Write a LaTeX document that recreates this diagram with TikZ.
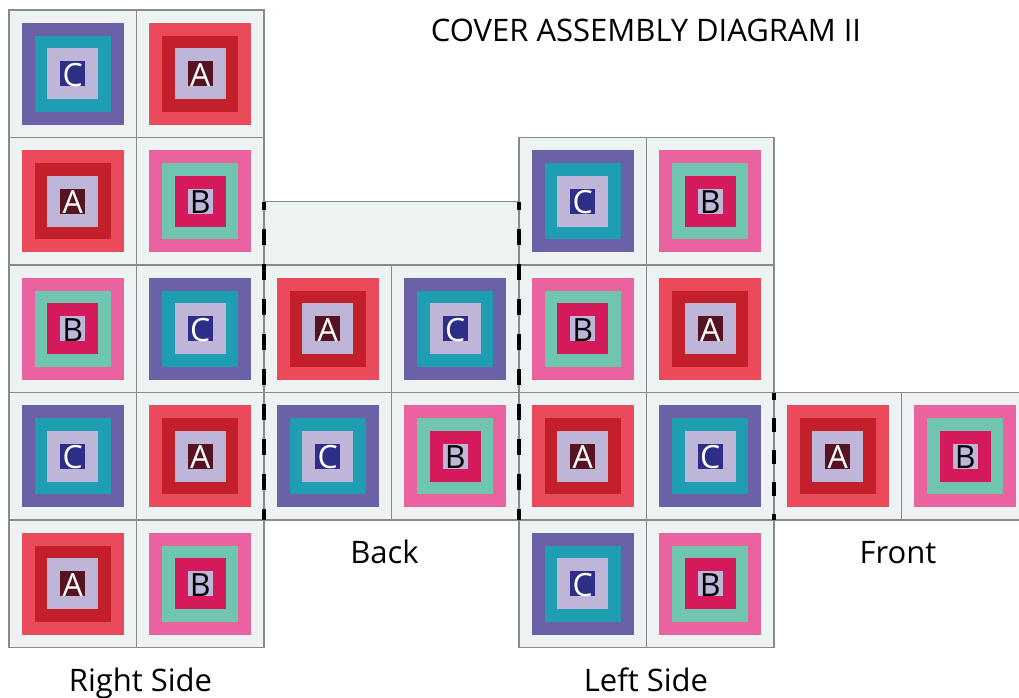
\documentclass[tikz,border=0pt]{standalone}
\usepackage{fontspec}
\usepackage{xcolor}
\usepackage{tikz}
\usetikzlibrary{positioning,calc}
\setmainfont{Open Sans}

\definecolor{cellgray}{HTML}{EDF2F2}
\definecolor{gridgray}{HTML}{8A8A8A}
\definecolor{qRed}{HTML}{EB4A5B}
\definecolor{qDeepRed}{HTML}{C4202B}
\definecolor{qMaroon}{HTML}{561422}
\definecolor{qLavender}{HTML}{BFB5D9}
\definecolor{qPurple}{HTML}{6C60A6}
\definecolor{qCyan}{HTML}{1F9DB1}
\definecolor{qNavy}{HTML}{2D2F87}
\definecolor{qPink}{HTML}{EA62A0}
\definecolor{qTeal}{HTML}{70C5B1}
\definecolor{qCrimson}{HTML}{D41A5A}

\tikzset{
  cellbox/.style={fill=cellgray, draw=gridgray, line width=1.2pt},
  foldline/.style={draw=black, line width=3.8pt, dash pattern=on 16pt off 19pt, dash phase=8pt},
  letterbox/.style={minimum size=25pt, inner sep=0pt, font=\fontsize{32}{34}\selectfont},
  caption/.style={anchor=base, font=\fontsize{31}{36}\selectfont}
}

% one quilt block: name, x, y, outer, middle, inner, letter box, letter, letter colour
\newcommand{\quilt}[9]{%
  \begin{scope}[shift={(#2,#3)}]
    \fill[cellgray] (0,0) rectangle (127.5,127.5);
    \fill[#4] (12.75,12.75) rectangle (114.75,114.75); % outer
    \fill[#5] (25.75,25.75) rectangle (101.75,101.75); % middle
    \fill[#6] (38.25,38.25) rectangle (89.25,89.25); % inner
    \fill[#7] (51.25,51.25) rectangle (76.25,76.25); % letter box
    \node[letterbox, text=#9] (#1) at (63.75,65) {#8};
    \draw[gridgray, line width=1.2pt] (0,0) rectangle (127.5,127.5);
  \end{scope}}
\newcommand{\blockA}[3]{\quilt{#1}{#2}{#3}{qRed}{qDeepRed}{qLavender}{qMaroon}{A}{white}}
\newcommand{\blockB}[3]{\quilt{#1}{#2}{#3}{qPink}{qTeal}{qCrimson}{qLavender}{B}{black}}
\newcommand{\blockC}[3]{\quilt{#1}{#2}{#3}{qPurple}{qCyan}{qLavender}{qNavy}{C}{white}}

\begin{document}
\begin{tikzpicture}[x=1pt,y=-1pt]
    \clip (0,0) rectangle (1019,698);
    \fill[white] (0,0) rectangle (1019,698);

    \node[caption] (title) at (646,42) {COVER ASSEMBLY DIAGRAM II};

    % Right Side
    \blockC{rightA}{9}{10}       \blockA{rightB}{136.5}{10}
    \blockA{rightC}{9}{137.5}    \blockB{rightD}{136.5}{137.5}
    \blockB{rightE}{9}{265}      \blockC{rightF}{136.5}{265}
    \blockC{rightG}{9}{392.5}    \blockA{rightH}{136.5}{392.5}
    \blockA{rightI}{9}{520}      \blockB{rightJ}{136.5}{520}
    \node[caption] (rightlabel) at (140.5,691) {Right Side};

    % Back
    \filldraw[cellbox] (264,201.75) rectangle (519,265); % flap
    \blockA{backA}{264}{265}     \blockC{backB}{391.5}{265}
    \blockC{backC}{264}{392.5}   \blockB{backD}{391.5}{392.5}
    \node[caption] (backlabel) at (384.5,563) {Back};

    % Left Side
    \blockC{leftA}{519}{137.5}   \blockB{leftB}{646.5}{137.5}
    \blockB{leftC}{519}{265}     \blockA{leftD}{646.5}{265}
    \blockA{leftE}{519}{392.5}   \blockC{leftF}{646.5}{392.5}
    \blockC{leftG}{519}{520}     \blockB{leftH}{646.5}{520}
    \node[caption] (leftlabel) at (646,691) {Left Side};

    % Front
    \blockA{frontA}{774}{392.5}  \blockB{frontB}{901.5}{392.5}
    \node[caption] (frontlabel) at (898,563) {Front};

    % fold lines
    \draw[foldline] (264,201.75) -- (264,520);
    \draw[foldline] (519,201.75) -- (519,520);
    \draw[foldline, dash pattern=on 14pt off 18pt, dash phase=7pt] (774,392.5) -- (774,520);
\end{tikzpicture}
\end{document}
